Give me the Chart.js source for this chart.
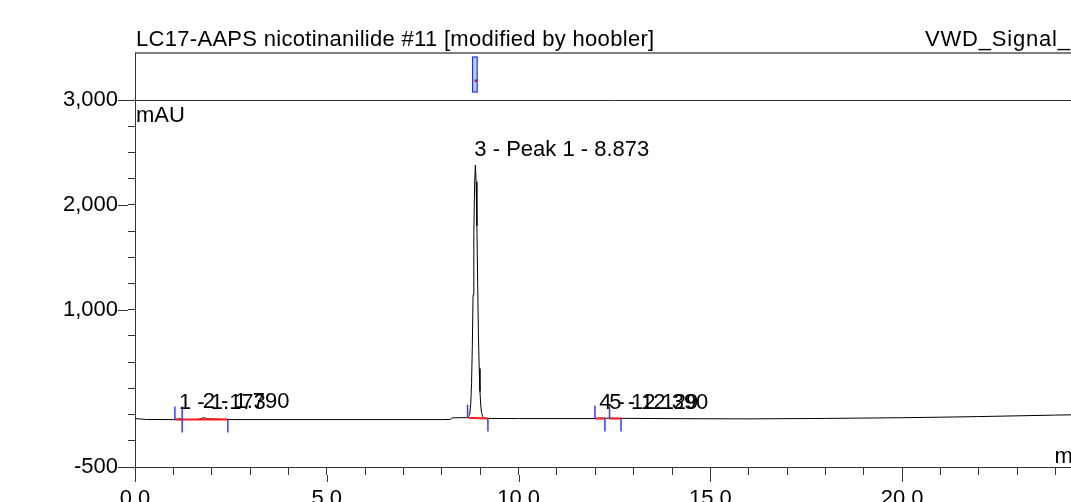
<!DOCTYPE html>
<html><head><meta charset="utf-8">
<script src="https://cdn.jsdelivr.net/npm/chart.js@4.4.1/dist/chart.umd.min.js"></script>
<style>html,body{margin:0;padding:0;overflow:hidden;background:#fff;width:1071px;height:502px}canvas{display:block}</style>
</head><body><canvas id="c" width="1130" height="502"></canvas>
<script>
const chartTitle = "LC17-AAPS nicotinanilide #11 [modified by hoobler]";
const signalName = "VWD_Signal_1";
const yUnit = "mAU";
const xUnit = "min";

// chromatogram trace (retention time in min, absorbance in mAU)
const timeMin = [0, 0.3, 1.0, 1.173, 1.25, 1.6, 1.72, 1.79, 1.86, 2.5, 5.0, 8.0, 8.22, 8.27, 8.5, 8.65,
  8.723, 8.753, 8.773, 8.793, 8.813, 8.833, 8.853, 8.873, 8.893, 8.913, 8.933, 8.953, 8.973, 8.993,
  9.013, 9.033, 9.063, 9.1, 9.2, 10, 12, 12.129, 12.39, 14, 16, 18, 20, 21, 22, 23, 24, 25];
const absorbance = [-38, -47, -48, -40, -48, -47, -40, -28, -40, -48, -48, -48, -46, -31, -30, -29,
  -5, 105, 295, 640, 1140, 1720, 2190, 2380, 2220, 1800, 1250, 760, 440, 220,
  90, 20, -20, -33, -37, -38, -38, -34, -35, -39, -41, -37, -30, -25, -19, -12, -5, 1];

// axis ticks
const yLabeledTicks = [3000, 2000, 1000, -500];
const xLabeledTicks = [0, 5, 10, 15, 20, 25];

// peak annotations
const peakLabelTimes = [1.173, 1.790, 8.873, 12.129, 12.390];
const peakLabelValues = [-40, -28, 2380, -34, -35];
const peakLabels = ["1 - 1.173", "2 - 1.790", "3 - Peak 1 - 8.873", "4 - 12.129", "5 - 12.390"];
const peakStartTimes = [1.04, 1.23, 8.67, 11.99, 12.37];
const peakStartValues = [-48, -48, -30, -38, -38];
const peakEndTimes = [1.23, 2.42, 9.20, 12.25, 12.67];
const peakEndValues = [-48, -48, -37, -38, -38];
const overviewWindow = [8.80, 8.92];

const FONT = '"Liberation Sans", Arial, sans-serif';
Chart.defaults.font.family = FONT;
Chart.defaults.font.size = 22;
Chart.defaults.color = '#000';

const decor = {
  id: 'decor',
  afterDatasetsDraw(chart) {
    const { ctx, chartArea: a, scales: { x, y } } = chart;
    const L = (x1, y1, x2, y2) => { ctx.beginPath(); ctx.moveTo(x1, y1); ctx.lineTo(x2, y2); ctx.stroke(); };
    ctx.save();
    const stripTop = a.top - 47;
    // frame lines
    ctx.strokeStyle = '#333'; ctx.lineWidth = 1;
    L(a.left, a.top + 0.5, a.right, a.top + 0.5);
    ctx.strokeStyle = '#555'; ctx.lineWidth = 1.5;
    L(a.left, stripTop, a.right, stripTop);
    ctx.strokeStyle = '#333'; ctx.lineWidth = 1;
    L(a.left + 0.5, stripTop, a.left + 0.5, a.top);
    // overview window mark
    const ox1 = x.getPixelForValue(overviewWindow[0]), ox2 = x.getPixelForValue(overviewWindow[1]);
    ctx.fillStyle = '#bcd0e6';
    ctx.fillRect(ox1, stripTop + 4, ox2 - ox1, 35);
    ctx.strokeStyle = '#2030ff'; ctx.lineWidth = 1.2;
    ctx.strokeRect(ox1, stripTop + 4, ox2 - ox1, 35);
    ctx.fillStyle = '#c00000';
    ctx.fillRect(ox2 - 2.5, stripTop + 26.5, 2, 2.5);
    // major tick extensions
    ctx.strokeStyle = '#333'; ctx.lineWidth = 1;
    yLabeledTicks.forEach(v => { const py = Math.round(y.getPixelForValue(v)) + 0.5; L(a.left - 17, py, a.left - 7, py); });
    xLabeledTicks.forEach(v => { const px = Math.round(x.getPixelForValue(v)) + 0.5; L(px, a.bottom + 8, px, a.bottom + 15); });
    // peak baselines (red)
    ctx.strokeStyle = '#ff1a1a'; ctx.lineWidth = 2;
    peakStartTimes.forEach((t, i) => {
      L(x.getPixelForValue(t), y.getPixelForValue(peakStartValues[i]), x.getPixelForValue(peakEndTimes[i]), y.getPixelForValue(peakEndValues[i]));
    });
    // peak delimiters (blue)
    ctx.strokeStyle = '#3a3aff'; ctx.lineWidth = 1.5;
    peakStartTimes.forEach((t, i) => { const px = x.getPixelForValue(t), py = y.getPixelForValue(peakStartValues[i]); L(px, py, px, py - 13); });
    peakEndTimes.forEach((t, i) => { const px = x.getPixelForValue(t), py = y.getPixelForValue(peakEndValues[i]); L(px, py, px, py + 13); });
    // peak labels
    ctx.fillStyle = '#000'; ctx.font = '22px ' + FONT; ctx.textAlign = 'left'; ctx.textBaseline = 'alphabetic';
    peakLabels.forEach((s, i) => ctx.fillText(s, x.getPixelForValue(peakLabelTimes[i]) - 1, y.getPixelForValue(peakLabelValues[i]) - 9.5));
    // units
    ctx.fillText(yUnit, a.left + 1, a.top + 22);
    ctx.textAlign = 'right';
    ctx.fillText(xUnit, a.right - 4, a.bottom - 4);
    // titles
    ctx.textAlign = 'left';
    ctx.letterSpacing = '0.3px';
    ctx.fillText(chartTitle, a.left + 1, stripTop - 7);
    ctx.letterSpacing = '0.8px';
    ctx.fillText(signalName, a.right - 169, stripTop - 7);
    ctx.restore();
  }
};

new Chart(document.getElementById('c'), {
  type: 'line',
  data: {
    datasets: [{
      data: timeMin.map((t, i) => ({ x: t, y: absorbance[i] })),
      borderColor: '#000', borderWidth: 1, pointRadius: 0, tension: 0, fill: false
    }]
  },
  options: {
    responsive: false, animation: false, devicePixelRatio: 1,
    layout: { padding: { top: 100, right: 36, left: 0, bottom: 0 } },
    plugins: { legend: { display: false }, tooltip: { enabled: false }, title: { display: false } },
    scales: {
      x: {
        type: 'linear', min: 0, max: 25,
        afterFit: s => { s.height = 35; },
        grid: { drawOnChartArea: false, drawTicks: true, tickLength: 8, color: '#333' },
        border: { display: true, color: '#333' },
        ticks: { stepSize: 1, autoSkip: false, maxRotation: 0, padding: 11,
          callback: v => xLabeledTicks.includes(v) ? v.toFixed(1) : '' }
      },
      y: {
        type: 'linear', min: -500, max: 3000,
        afterFit: s => { s.width = 135; },
        grid: { drawOnChartArea: false, drawTicks: true, tickLength: 7, color: '#333' },
        border: { display: true, color: '#333' },
        ticks: { stepSize: 250, autoSkip: false, padding: 10,
          callback: v => yLabeledTicks.includes(v) ? v.toLocaleString('en-US') : '' }
      }
    }
  },
  plugins: [decor]
});
</script></body></html>
